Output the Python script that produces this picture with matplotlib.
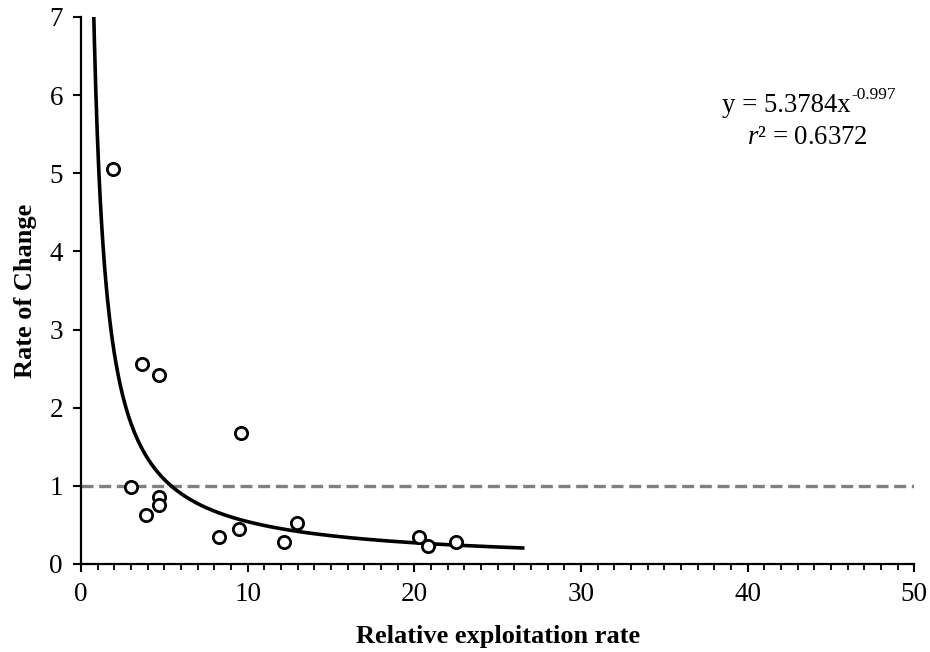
import matplotlib
matplotlib.use("Agg")
import matplotlib.pyplot as plt
import numpy as np
from matplotlib.ticker import MultipleLocator

plt.rcParams['font.family'] = ['Liberation Serif', 'DejaVu Serif']
plt.rcParams['mathtext.fontset'] = 'custom'
plt.rcParams['mathtext.rm'] = 'Liberation Serif'
plt.rcParams['mathtext.it'] = 'Liberation Serif:italic'

# observed points (relative exploitation rate, rate of change)
exploitation = [1.90, 3.68, 4.70, 9.61, 3.02, 4.70, 4.70, 3.89, 8.27, 9.51,
                12.16, 12.94, 20.27, 20.85, 22.48]
rate_change = [5.06, 2.56, 2.42, 1.67, 0.98, 0.86, 0.76, 0.63, 0.34, 0.45,
               0.28, 0.52, 0.34, 0.23, 0.28]

# power trendline  y = a * x^b
FIT_A = 5.3784
FIT_B = -0.997
FIT_R2 = 0.6372
FIT_X_START = 0.5
FIT_X_END = 26.5

REFERENCE_LEVEL = 1

fig = plt.figure(figsize=(9.3, 6.52), dpi=100)
ax = fig.add_axes([0.0871, 0.135, 0.896, 0.839])

xx = np.linspace(FIT_X_START, FIT_X_END, 600)
ax.plot(xx, FIT_A * xx ** FIT_B, color='black', lw=2.6, zorder=3)

ax.axhline(REFERENCE_LEVEL, color='#808080', lw=2.4, dashes=(3.6, 1.7), zorder=2)

ax.scatter(exploitation, rate_change, s=78, facecolors='white',
           edgecolors='black', linewidths=2.0, zorder=4)

ax.set_xlim(0, 50)
ax.set_ylim(0, 7)
ax.xaxis.set_major_locator(MultipleLocator(10))
ax.xaxis.set_minor_locator(MultipleLocator(1))
ax.yaxis.set_major_locator(MultipleLocator(1))

for side in ('top', 'right'):
    ax.spines[side].set_visible(False)
for side in ('left', 'bottom'):
    ax.spines[side].set_linewidth(1.6)

ax.tick_params(axis='both', which='major', direction='out', length=6, width=1.5,
               labelsize=19.5, pad=7)
ax.tick_params(axis='x', which='minor', direction='out', length=4.5, width=1.3)

ax.set_xlabel('Relative exploitation rate', fontsize=19, fontweight='bold', labelpad=13)
ax.set_ylabel('Rate of Change', fontsize=19, fontweight='bold', labelpad=9)

eq = ax.text(0.924, 0.838, 'y = %.4fx' % FIT_A, transform=ax.transAxes,
             ha='right', va='center', fontsize=19.3)
ax.annotate('%.3f' % FIT_B, xy=(1, 0.62), xycoords=eq, ha='left', va='bottom',
            fontsize=12.5)
ax.text(0.872, 0.78, r'$r$² = %.4f' % FIT_R2,
        transform=ax.transAxes, ha='center', va='center', fontsize=19.3)

fig.savefig('out.png', dpi=100)
